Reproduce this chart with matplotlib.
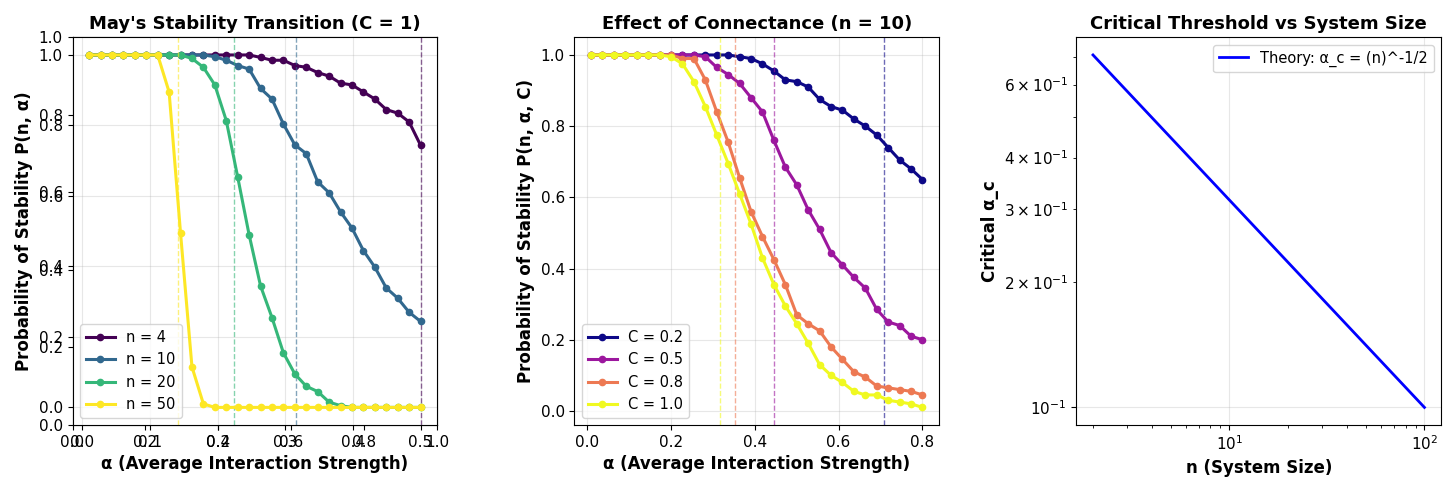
import numpy as np
import matplotlib.pyplot as plt

# panel 1: May's transition, C = 1
alpha1 = np.linspace(0.01, 0.5, 30)
n_values = [4, 10, 20, 50]
p_n4 = [1.0] * 15 + [0.993, 0.985, 0.985, 0.97, 0.965, 0.95, 0.94, 0.92, 0.915,
                     0.895, 0.875, 0.845, 0.835, 0.81, 0.744]
p_n10 = [1.0] * 11 + [0.995, 0.985, 0.97, 0.96, 0.905, 0.875, 0.804, 0.745, 0.72,
                      0.64, 0.609, 0.555, 0.509, 0.445, 0.398, 0.339, 0.31, 0.27, 0.244]
p_n20 = [1.0] * 9 + [0.99, 0.965, 0.915, 0.814, 0.654, 0.49, 0.345, 0.255, 0.155,
                     0.095, 0.06, 0.045, 0.015, 0.005] + [0.0] * 7
p_n50 = [1.0] * 7 + [0.895, 0.495, 0.115, 0.01] + [0.0] * 19

# panel 2: connectance, n = 10
alpha2 = np.linspace(0.01, 0.8, 30)
c_values = [0.2, 0.5, 0.8, 1.0]
p_c02 = [1.0] * 13 + [0.995, 0.99, 0.975, 0.955, 0.93, 0.925, 0.91, 0.875, 0.855,
                      0.845, 0.82, 0.80, 0.775, 0.74, 0.705, 0.68, 0.65]
p_c05 = [1.0] * 10 + [0.995, 0.965, 0.945, 0.92, 0.88, 0.84, 0.76, 0.685, 0.635,
                      0.565, 0.51, 0.445, 0.41, 0.375, 0.345, 0.285, 0.25, 0.24, 0.21, 0.20]
p_c08 = [1.0] * 8 + [0.99, 0.99, 0.93, 0.84, 0.755, 0.655, 0.56, 0.49, 0.425, 0.355,
                     0.27, 0.245, 0.225, 0.18, 0.145, 0.11, 0.095, 0.07, 0.065, 0.06,
                     0.055, 0.045]
p_c10 = [1.0] * 7 + [0.995, 0.975, 0.925, 0.855, 0.775, 0.695, 0.61, 0.525, 0.43,
                     0.355, 0.295, 0.245, 0.19, 0.13, 0.10, 0.08, 0.055, 0.045, 0.045,
                     0.03, 0.025, 0.02, 0.01]

# panel 3: theory line endpoints
n_sizes = [2, 100]
alpha_crit = [0.707, 0.1]

plt.rcParams['xtick.labelsize'] = 11
plt.rcParams['ytick.labelsize'] = 11
plt.rcParams['legend.fontsize'] = 10.5

fig, axes = plt.subplots(1, 3, figsize=(14.56, 4.92), dpi=100)

# panel 1 (an extra axes sits on top of the empty subplot)
ax = fig.add_subplot(1, 3, 1)
cols = plt.cm.viridis(np.linspace(0, 1, 4))
for n, p, c in zip(n_values, [p_n4, p_n10, p_n20, p_n50], cols):
    ax.plot(alpha1, p, 'o-', color=c, lw=2.2, ms=4.5, label=f'n = {n}')
    ax.axvline(1 / np.sqrt(n), color=c, ls='--', lw=1, alpha=0.6)
ax.set_xlabel('α (Average Interaction Strength)', fontsize=12, fontweight='bold')
ax.set_ylabel('Probability of Stability P(n, α)', fontsize=12, fontweight='bold')
ax.set_title("May's Stability Transition (C = 1)", fontsize=13, fontweight='bold')
ax.legend(loc='lower left')
ax.grid(True, alpha=0.3)

ax = axes[1]
cols = plt.cm.plasma(np.linspace(0, 1, 4))
for C, p, c in zip(c_values, [p_c02, p_c05, p_c08, p_c10], cols):
    ax.plot(alpha2, p, 'o-', color=c, lw=2.2, ms=4.5, label=f'C = {C}')
    ax.axvline(1 / np.sqrt(10 * C), color=c, ls='--', lw=1, alpha=0.6)
ax.set_xlabel('α (Average Interaction Strength)', fontsize=12, fontweight='bold')
ax.set_ylabel('Probability of Stability P(n, α, C)', fontsize=12, fontweight='bold')
ax.set_title('Effect of Connectance (n = 10)', fontsize=13, fontweight='bold')
ax.legend(loc='lower left')
ax.grid(True, alpha=0.3)

ax = axes[2]
ax.loglog(n_sizes, alpha_crit, 'b-', lw=2, label='Theory: α_c = (n)^-1/2')
ax.set_xlabel('n (System Size)', fontsize=12, fontweight='bold')
ax.set_ylabel('Critical α_c', fontsize=12, fontweight='bold')
ax.set_title('Critical Threshold vs System Size', fontsize=13, fontweight='bold')
ax.legend(loc='upper right')
ax.grid(True, alpha=0.3)

plt.tight_layout(w_pad=3)
fig.axes[3].set_position(axes[0].get_position())
plt.savefig('out.png', dpi=100)
